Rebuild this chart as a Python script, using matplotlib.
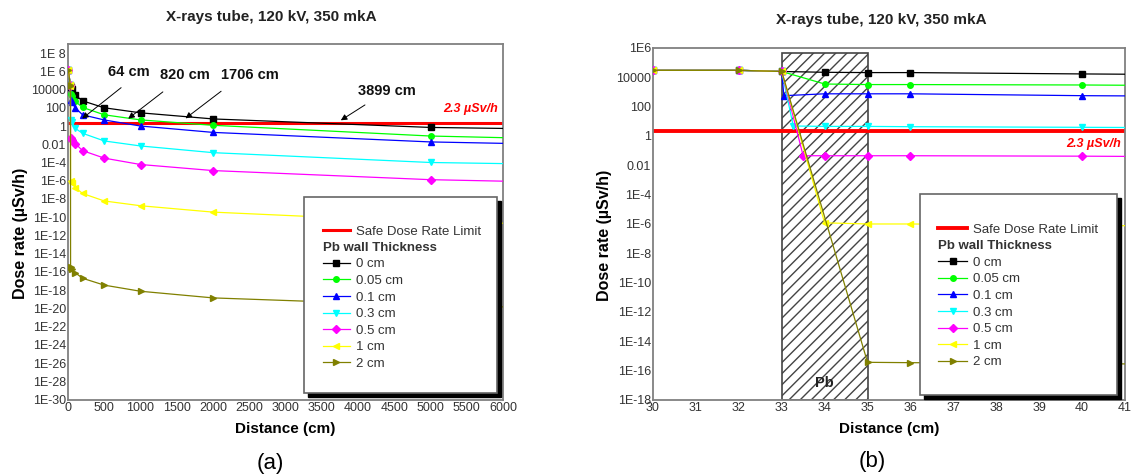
import matplotlib
matplotlib.use('Agg')
import matplotlib.pyplot as plt
from matplotlib.lines import Line2D
from matplotlib.patches import Rectangle
from matplotlib.ticker import FixedLocator, NullLocator
from matplotlib.transforms import offset_copy

plt.rcParams['font.family'] = ['Liberation Sans', 'DejaVu Sans']

# ---- data ----
labels = ['0 cm', '0.05 cm', '0.1 cm', '0.3 cm', '0.5 cm', '1 cm', '2 cm']
limit = 2.3  # uSv/h

# panel (a): distance 0..6000 cm
dist_a = [5, 30, 33, 35, 50, 100, 200, 500, 1000, 2000, 5000, 10000]
a_0cm = [1.5e6, 3e4, 2.5e4, 2.1e4, 1.1e4, 2.4e3, 580, 100, 28, 6, 0.7, 0.2]
a_005cm = [1.5e6, 3e4, 2.5e4, 3.2e3, 2e3, 500, 110, 17, 4.7, 1.2, 0.08, 0.01]
a_01cm = [1.5e6, 3e4, 2.5e4, 750, 400, 100, 17, 4.6, 1.0, 0.2, 0.018, 0.003]
a_03cm = [1.5e6, 3e4, 2.5e4, 4.5, 3, 0.55, 0.16, 0.023, 0.0065, 1.2e-3, 1e-4, 2.5e-5]
a_05cm = [1.5e6, 3e4, 2.5e4, 0.045, 0.03, 0.012, 2e-3, 3e-4, 6e-5, 1.3e-5, 1.3e-6, 2e-7]
a_1cm = [1.5e6, 3e4, 2.5e4, 1e-6, 5e-7, 1.8e-7, 4e-8, 6e-9, 1.8e-9, 3.6e-10, 3e-11, 6e-12]
a_2cm = [1.5e6, 3e4, 2.5e4, 3.7e-16, 2e-16, 8e-17, 2e-17, 3.5e-18, 7.5e-19, 1.4e-19, 2e-20, 4e-21]

# panel (b): zoom on the Pb wall, 30..41 cm
b_0cm_x = [30, 32, 33, 34, 35, 36, 40, 50]
b_0cm = [3e4, 3e4, 2.5e4, 2.2e4, 2.1e4, 2.1e4, 1.7e4, 1.1e4]
b_005cm_x = [30, 32, 33, 34, 35, 36, 40, 50]
b_005cm = [3e4, 3e4, 2.5e4, 3.5e3, 3.2e3, 3.2e3, 3e3, 2e3]
b_01cm_x = [30, 32, 33, 33.05, 34, 35, 36, 40, 50]
b_01cm = [3e4, 3e4, 2.5e4, 560, 750, 750, 750, 560, 400]
b_03cm_x = [30, 32, 33, 33.27, 34, 35, 36, 40, 50]
b_03cm = [3e4, 3e4, 2.5e4, 4.8, 4.5, 4.5, 4.3, 3.9, 3]
b_05cm_x = [30, 32, 33, 33.5, 34, 35, 36, 40, 50]
b_05cm = [3e4, 3e4, 2.5e4, 0.045, 0.045, 0.045, 0.045, 0.042, 0.03]
b_1cm_x = [30, 32, 33, 34, 35, 36, 40, 50]
b_1cm = [3e4, 3e4, 2.5e4, 1.2e-6, 1e-6, 1e-6, 8e-7, 5e-7]
b_2cm_x = [30, 32, 33, 35, 36, 40, 50]
b_2cm = [3e4, 3e4, 2.5e4, 3.7e-16, 3.5e-16, 3e-16, 2e-16]
pb_start, pb_end = 33, 35

# crossing distances and where the arrows sit
cross_labels = ['64 cm', '820 cm', '1706 cm', '3899 cm']
cross_text = [(841, 8.5e5), (1607, 4.4e5), (2510, 4.4e5), (4396, 6.8e3)]
cross_tail = [(762, 2.5e4), (1338, 8.5e3), (2142, 1e4), (4128, 300)]
cross_tip = [(165, 4.2), (800, 4.2), (1590, 4.5), (3730, 2.9)]

ytick_a = [1e8, 1e6, 1e4, 1e2, 1, 1e-2, 1e-4, 1e-6, 1e-8, 1e-10, 1e-12, 1e-14, 1e-16,
           1e-18, 1e-20, 1e-22, 1e-24, 1e-26, 1e-28, 1e-30]
ylab_a = ['1E 8', '1E 6', '10000', '100', '1', '0.01', '1E-4', '1E-6', '1E-8', '1E-10',
          '1E-12', '1E-14', '1E-16', '1E-18', '1E-20', '1E-22', '1E-24', '1E-26', '1E-28', '1E-30']
ytick_b = [1e6, 1e4, 1e2, 1, 1e-2, 1e-4, 1e-6, 1e-8, 1e-10, 1e-12, 1e-14, 1e-16, 1e-18]
ylab_b = ['1E6', '10000', '100', '1', '0.01', '1E-4', '1E-6', '1E-8', '1E-10', '1E-12',
          '1E-14', '1E-16', '1E-18']
xtick_a = [0, 500, 1000, 1500, 2000, 2500, 3000, 3500, 4000, 4500, 5000, 5500, 6000]
xtick_b = [30, 31, 32, 33, 34, 35, 36, 37, 38, 39, 40, 41]

colors = ['#000000', '#00ff00', '#0000ff', '#00ffff', '#ff00ff', '#ffff00', '#808000']
markers = ['s', 'o', '^', 'v', 'D', '<', '>']
msizes = [4, 4, 4.5, 4.5, 3.8, 4.5, 4.5]
red = '#ff0000'
title = 'X-rays tube, 120 kV, 350 mkA'

fig = plt.figure(figsize=(11.36, 4.76), dpi=100)
axa = fig.add_axes([0.0599, 0.1607, 0.3829, 0.7469])
axb = fig.add_axes([0.5748, 0.1597, 0.4155, 0.7395])


def style(ax, yt, yl, xt, xlim, ylim, ylab_pos):
    ax.set_yscale('log')
    ax.set_xlim(*xlim)
    ax.set_ylim(*ylim)
    ax.yaxis.set_major_locator(FixedLocator(yt))
    ax.yaxis.set_minor_locator(NullLocator())
    ax.set_yticklabels(yl)
    ax.set_xticks(xt)
    ax.set_xticklabels([str(v) for v in xt])
    ax.tick_params(length=0, pad=1.5, labelsize=9, labelcolor='#333333')
    for s in ax.spines.values():
        s.set_color('#808080')
        s.set_linewidth(1.3)
    ax.set_ylabel('Dose rate (µSv/h)', fontsize=11.5, fontweight='bold')
    ax.yaxis.set_label_coords(*ylab_pos)
    ax.set_xlabel('Distance (cm)', fontsize=11, fontweight='bold', labelpad=6)


def legend_box(ax, x0, y0, w, h, hx, hy, handles, hlen):
    sh = Rectangle((x0, y0), w, h, transform=offset_copy(ax.transAxes, fig=fig, x=4, y=-4, units='dots'),
                   fc='black', ec='black', zorder=8, clip_on=False)
    box = Rectangle((x0, y0), w, h, transform=ax.transAxes, fc='white', ec='#666666', lw=1.2,
                    zorder=9, clip_on=False)
    ax.add_patch(sh)
    ax.add_patch(box)
    names = ['Safe Dose Rate Limit', 'Pb wall Thickness'] + labels
    leg = ax.legend(handles, names, loc='upper left', bbox_to_anchor=(hx, hy), frameon=False,
                    borderpad=0, borderaxespad=0, handlelength=hlen, handletextpad=0.45,
                    labelspacing=0.33, fontsize=9.5)
    leg.set_zorder(10)
    for t in leg.get_texts():
        t.set_color('#333333')
    for col in leg._legend_handle_box.get_children():
        for row in col.get_children():
            kids = row.get_children()
            if kids[1]._text.get_text() == 'Pb wall Thickness':
                row._children = [kids[1]]
                kids[1]._text.set_fontweight('bold')
    return leg


# ---- panel (a) ----
series_a = [a_0cm, a_005cm, a_01cm, a_03cm, a_05cm, a_1cm, a_2cm]
lim_a = axa.axhline(limit, color=red, lw=2.2, zorder=2, label='Safe Dose Rate Limit')
hs = []
for i, ys in enumerate(series_a):
    h, = axa.plot(dist_a, ys, color=colors[i], marker=markers[i], ms=msizes[i], lw=0.9, zorder=3)
    hs.append(h)
style(axa, ytick_a, ylab_a, xtick_a, (0, 6000), (1e-30, 1e9), (-0.093, 0.468))
axa.text(5931, 10**1.92, '2.3 µSv/h', color=red, fontsize=9, fontweight='bold', style='italic',
         ha='right', va='center')
for lab, tp, tl, tip in zip(cross_labels, cross_text, cross_tail, cross_tip):
    axa.text(tp[0], tp[1], lab, fontsize=10.5, fontweight='bold', ha='center', va='center', color='#111111')
    axa.annotate('', xy=tip, xytext=tl,
                 arrowprops=dict(arrowstyle='-|>', color='black', lw=0.7, mutation_scale=9))
header = Line2D([], [], linestyle='none')
legend_box(axa, 0.5425, 0.018, 0.4435, 0.552, 0.5855, 0.490, [lim_a, header] + hs, 2.05)

# ---- panel (b) ----
xs_b = [b_0cm_x, b_005cm_x, b_01cm_x, b_03cm_x, b_05cm_x, b_1cm_x, b_2cm_x]
series_b = [b_0cm, b_005cm, b_01cm, b_03cm, b_05cm, b_1cm, b_2cm]
axb.axvspan(pb_start, pb_end, ymin=0, ymax=0.986, facecolor='white', edgecolor='#444444',
            hatch='///', lw=1.2, zorder=1)
lim_b = axb.axhline(limit, color=red, lw=2.8, zorder=2)
hs = []
for i in range(7):
    h, = axb.plot(xs_b[i], series_b[i], color=colors[i], marker=markers[i], ms=msizes[i], lw=0.9, zorder=3)
    hs.append(h)
style(axb, ytick_b, ylab_b, xtick_b, (30, 41), (1e-18, 1e6), (-0.087, 0.469))
axb.text(40.9, 0.29, '2.3 µSv/h', color=red, fontsize=9, fontweight='bold', style='italic',
         ha='right', va='center')
axb.text((pb_start + pb_end) / 2, 10**-16.86, 'Pb', fontsize=10.5, fontweight='bold', ha='center',
         va='center', color='#222222', zorder=4)
legend_box(axb, 0.5657, 0.0142, 0.4173, 0.571, 0.604, 0.501, [lim_b, header] + hs, 2.2)

# titles and panel letters
fig.text(271 / 1136, 1 - 17 / 476, title, fontsize=11, fontweight='bold', ha='center', va='center', color='#222222')
fig.text(881 / 1136, 1 - 20 / 476, title, fontsize=11, fontweight='bold', ha='center', va='center', color='#222222')
fig.text(270 / 1136, 1 - 463 / 476, '(a)', fontsize=16, ha='center', va='center')
fig.text(872 / 1136, 1 - 462 / 476, '(b)', fontsize=16, ha='center', va='center')

fig.savefig('out.png', dpi=100)
